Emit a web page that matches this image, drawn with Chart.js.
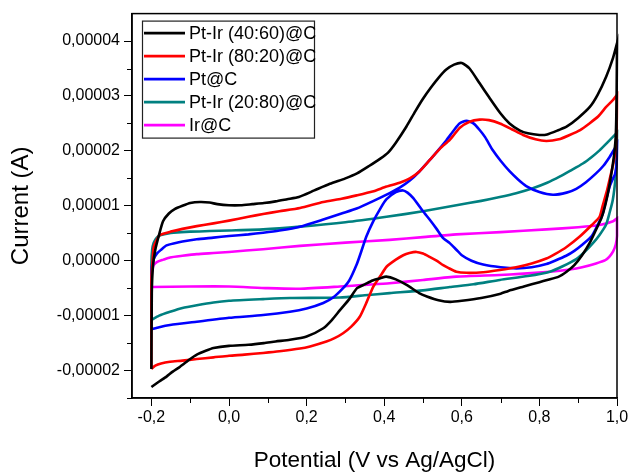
<!DOCTYPE html>
<html>
<head>
<meta charset="utf-8">
<script src="https://cdn.jsdelivr.net/npm/chart.js@4.4.1/dist/chart.umd.min.js"></script>
<style>
  html, body { margin: 0; padding: 0; background: #fff; }
</style>
</head>
<body>
<canvas id="cv" width="631" height="476"></canvas>
<script>
// potentials in V vs Ag/AgCl, currents in microamps (converted to A below)
// Pt-Ir (40:60)@C
const ptIr4060FwdE = [-0.2, -0.199, -0.196, -0.19, -0.18, -0.17, -0.155, -0.14, -0.12, -0.1, -0.075, -0.05, -0.03, 0.0, 0.03, 0.06, 0.09, 0.12, 0.15, 0.18, 0.22, 0.26, 0.3, 0.33, 0.36, 0.39, 0.41, 0.43, 0.457, 0.48, 0.5, 0.52, 0.54, 0.56, 0.58, 0.6, 0.62, 0.646, 0.67, 0.7, 0.723, 0.75, 0.77, 0.8, 0.82, 0.85, 0.87, 0.9, 0.93, 0.95, 0.972, 0.99, 1.0];
const ptIr4060FwdI = [-19.7, -6.0, -1.0, 2.0, 4.8, 7.2, 8.6, 9.4, 10.0, 10.5, 10.7, 10.6, 10.3, 10.1, 10.1, 10.3, 10.5, 10.8, 11.2, 11.6, 12.8, 14.0, 15.0, 15.9, 17.2, 18.6, 19.7, 21.5, 24.4, 27.2, 29.5, 31.5, 33.3, 34.8, 35.7, 36.0, 35.0, 32.3, 29.8, 26.8, 25.0, 23.7, 23.2, 22.9, 23.0, 23.8, 24.4, 26.0, 28.0, 30.2, 33.5, 37.0, 39.6];
const ptIr4060RevE = [1.0, 0.999, 0.997, 0.993, 0.988, 0.98, 0.97, 0.96, 0.945, 0.93, 0.91, 0.89, 0.87, 0.85, 0.82, 0.8, 0.76, 0.72, 0.7, 0.65, 0.6, 0.57, 0.54, 0.51, 0.49, 0.46, 0.43, 0.405, 0.39, 0.37, 0.35, 0.33, 0.31, 0.286, 0.265, 0.243, 0.2, 0.157, 0.12, 0.09, 0.05, 0.0, -0.04, -0.06, -0.083, -0.1, -0.126, -0.145, -0.161, -0.18, -0.2];
const ptIr4060RevI = [39.6, 30.0, 23.0, 19.5, 17.0, 13.5, 10.2, 7.8, 5.5, 3.3, 1.0, -0.8, -2.0, -2.9, -3.5, -3.9, -4.7, -5.5, -6.0, -6.8, -7.3, -7.5, -7.2, -6.5, -5.9, -4.5, -3.4, -2.9, -3.2, -3.6, -4.3, -5.0, -7.0, -9.0, -10.8, -12.3, -13.8, -14.4, -14.7, -15.0, -15.3, -15.5, -15.9, -16.4, -17.1, -17.9, -19.3, -20.2, -21.1, -22.0, -23.0];

// Pt-Ir (80:20)@C
const ptIr8020FwdE = [-0.2, -0.2, -0.197, -0.194, -0.185, -0.178, -0.15, -0.12, -0.083, -0.04, 0.0, 0.05, 0.088, 0.13, 0.183, 0.243, 0.29, 0.329, 0.37, 0.406, 0.44, 0.466, 0.49, 0.517, 0.545, 0.569, 0.595, 0.62, 0.646, 0.67, 0.698, 0.73, 0.758, 0.79, 0.818, 0.85, 0.878, 0.905, 0.929, 0.952, 0.972, 0.99, 1.0];
const ptIr8020FwdI = [-19.5, -3.5, 0.0, 2.5, 4.0, 4.7, 5.3, 5.8, 6.3, 6.8, 7.3, 8.0, 8.5, 9.0, 9.6, 10.7, 11.3, 11.9, 12.6, 13.5, 14.2, 15.0, 16.2, 18.3, 20.5, 22.0, 24.2, 25.3, 25.7, 25.6, 25.0, 23.9, 22.9, 22.1, 21.8, 22.1, 22.9, 23.8, 25.0, 26.3, 28.0, 29.3, 30.2];
const ptIr8020RevE = [1.0, 0.999, 0.996, 0.99, 0.985, 0.975, 0.963, 0.955, 0.935, 0.904, 0.87, 0.84, 0.818, 0.78, 0.74, 0.698, 0.655, 0.612, 0.586, 0.565, 0.552, 0.535, 0.517, 0.5, 0.483, 0.465, 0.449, 0.43, 0.406, 0.39, 0.372, 0.355, 0.337, 0.315, 0.294, 0.272, 0.251, 0.209, 0.183, 0.13, 0.088, 0.04, 0.0, -0.04, -0.083, -0.12, -0.152, -0.175, -0.19, -0.2];
const ptIr8020RevI = [30.2, 24.0, 20.0, 17.5, 16.0, 13.0, 10.0, 8.0, 6.5, 4.4, 2.5, 1.2, 0.4, -0.5, -1.2, -1.7, -2.1, -2.2, -2.0, -1.3, -0.8, 0.0, 0.7, 1.3, 1.6, 1.4, 1.0, 0.2, -1.1, -2.8, -4.7, -7.5, -10.2, -12.0, -13.2, -14.1, -14.7, -15.6, -16.0, -16.5, -16.8, -17.1, -17.3, -17.6, -17.9, -18.2, -18.4, -18.7, -19.1, -19.7];

// Pt@C
const ptFwdE = [-0.2, -0.2, -0.199, -0.194, -0.186, -0.175, -0.161, -0.14, -0.12, -0.083, -0.04, 0.0, 0.05, 0.088, 0.13, 0.183, 0.243, 0.29, 0.329, 0.37, 0.414, 0.44, 0.466, 0.49, 0.517, 0.54, 0.56, 0.58, 0.594, 0.612, 0.63, 0.646, 0.66, 0.68, 0.7, 0.723, 0.745, 0.766, 0.8, 0.835, 0.87, 0.895, 0.92, 0.946, 0.965, 0.981, 0.993, 1.0];
const ptFwdI = [-12.4, -5.0, -1.1, 0.3, 1.3, 2.0, 2.8, 3.2, 3.5, 3.9, 4.2, 4.5, 4.8, 5.1, 5.5, 6.2, 7.5, 8.6, 9.5, 10.8, 12.3, 13.3, 14.6, 16.2, 18.3, 20.2, 21.9, 23.8, 25.0, 25.5, 25.0, 23.8, 22.5, 20.1, 18.2, 16.3, 14.8, 13.6, 12.5, 12.0, 12.4, 13.1, 14.3, 15.9, 17.3, 18.9, 20.3, 21.2];
const ptRevE = [1.0, 0.999, 0.995, 0.99, 0.981, 0.97, 0.963, 0.955, 0.935, 0.912, 0.89, 0.869, 0.84, 0.818, 0.78, 0.741, 0.7, 0.655, 0.625, 0.6, 0.586, 0.569, 0.552, 0.535, 0.517, 0.5, 0.475, 0.46, 0.449, 0.43, 0.406, 0.39, 0.372, 0.354, 0.34, 0.329, 0.31, 0.294, 0.27, 0.243, 0.2, 0.157, 0.088, 0.0, -0.083, -0.152, -0.18, -0.2];
const ptRevI = [21.2, 17.5, 15.8, 15.0, 13.5, 10.5, 8.5, 7.2, 4.5, 3.0, 1.8, 0.9, 0.0, -0.6, -1.2, -1.4, -1.2, -0.7, 0.0, 1.0, 2.0, 3.2, 4.1, 5.8, 7.5, 9.0, 11.4, 12.4, 12.8, 12.5, 11.2, 9.5, 7.2, 4.4, 1.5, -0.7, -3.6, -5.0, -6.6, -7.7, -8.7, -9.3, -9.9, -10.4, -11.1, -11.7, -12.1, -12.5];

// Pt-Ir (20:80)@C
const ptIr2080FwdE = [-0.2, -0.2, -0.198, -0.194, -0.186, -0.178, -0.16, -0.143, -0.1, -0.05, 0.0, 0.088, 0.183, 0.3, 0.406, 0.5, 0.586, 0.65, 0.698, 0.74, 0.783, 0.82, 0.852, 0.88, 0.912, 0.935, 0.955, 0.975, 0.99, 1.0];
const ptIr2080FwdI = [-10.8, -0.5, 2.0, 3.3, 4.2, 4.6, 4.9, 5.1, 5.3, 5.4, 5.5, 5.7, 6.2, 7.0, 8.0, 9.0, 10.1, 10.9, 11.6, 12.3, 13.2, 14.2, 15.3, 16.4, 17.7, 18.9, 20.1, 21.5, 22.6, 23.3];
const ptIr2080RevE = [1.0, 0.999, 0.996, 0.989, 0.98, 0.972, 0.955, 0.938, 0.915, 0.895, 0.86, 0.827, 0.77, 0.698, 0.63, 0.569, 0.5, 0.414, 0.35, 0.286, 0.157, 0.088, 0.0, -0.04, -0.083, -0.12, -0.152, -0.18, -0.2];
const ptIr2080RevI = [23.3, 19.0, 15.0, 11.0, 8.5, 6.6, 4.7, 3.2, 1.5, 0.3, -1.0, -2.0, -2.8, -3.5, -4.3, -4.8, -5.4, -5.9, -6.3, -6.7, -6.8, -7.0, -7.3, -7.6, -8.1, -8.6, -9.3, -10.0, -10.8];

// Ir@C
const irFwdE = [-0.2, -0.2, -0.197, -0.194, -0.185, -0.169, -0.152, -0.12, -0.083, -0.04, 0.0, 0.088, 0.183, 0.3, 0.414, 0.5, 0.586, 0.7, 0.818, 0.9, 0.955, 0.99, 1.0];
const irFwdI = [-4.8, -3.2, -1.5, -0.8, -0.2, 0.2, 0.6, 0.9, 1.2, 1.4, 1.6, 2.1, 2.7, 3.3, 3.8, 4.3, 4.8, 5.2, 5.7, 6.1, 6.5, 7.2, 7.7];
const irRevE = [1.0, 1.0, 0.997, 0.99, 0.98, 0.97, 0.946, 0.91, 0.878, 0.827, 0.75, 0.698, 0.586, 0.5, 0.414, 0.35, 0.286, 0.183, 0.1, 0.0, -0.1, -0.2];
const irRevI = [7.7, 4.5, 3.0, 1.7, 0.7, 0.1, -0.5, -1.2, -1.6, -2.0, -2.4, -2.6, -2.9, -3.5, -4.1, -4.4, -4.7, -5.1, -5.0, -4.7, -4.7, -4.8];

const seriesLabels = ['Pt-Ir (40:60)@C', 'Pt-Ir (80:20)@C', 'Pt@C', 'Pt-Ir (20:80)@C', 'Ir@C'];
const seriesColors = ['#000000', '#ff0000', '#0000ff', '#008080', '#ff00ff'];

// axis ticks
const xTicks = [-0.2, 0.0, 0.2, 0.4, 0.6, 0.8, 1.0];
const xMinor = [-0.1, 0.1, 0.3, 0.5, 0.7, 0.9];
const yTicks = [-0.00002, -0.00001, 0, 0.00001, 0.00002, 0.00003, 0.00004];
const yMinor = [-0.000025, -0.000015, -0.000005, 0.000005, 0.000015, 0.000025, 0.000035];

function sweep(fE, fI, rE, rI) {
  const pts = [];
  fE.forEach((e, i) => pts.push({ x: e, y: fI[i] * 1e-6 }));
  rE.forEach((e, i) => pts.push({ x: e, y: rI[i] * 1e-6 }));
  return pts;
}

const loops = [
  sweep(ptIr4060FwdE, ptIr4060FwdI, ptIr4060RevE, ptIr4060RevI),
  sweep(ptIr8020FwdE, ptIr8020FwdI, ptIr8020RevE, ptIr8020RevI),
  sweep(ptFwdE, ptFwdI, ptRevE, ptRevI),
  sweep(ptIr2080FwdE, ptIr2080FwdI, ptIr2080RevE, ptIr2080RevI),
  sweep(irFwdE, irFwdI, irRevE, irRevI)
];

Chart.defaults.font.family = "'Liberation Sans', Arial, sans-serif";
Chart.defaults.color = '#000';

// frame, minor ticks and the boxed legend
const extras = {
  id: 'extras',
  afterDraw(chart) {
    const { ctx, chartArea: a, scales } = chart;
    ctx.save();
    ctx.strokeStyle = '#000';
    ctx.lineWidth = 1.5;
    ctx.strokeRect(a.left, a.top, a.right - a.left, a.bottom - a.top);

    ctx.lineWidth = 1;
    ctx.beginPath();
    xMinor.forEach(v => {
      const px = Math.round(scales.x.getPixelForValue(v)) + 0.5;
      ctx.moveTo(px, a.bottom);
      ctx.lineTo(px, a.bottom + 5);
    });
    yMinor.forEach(v => {
      const py = Math.round(scales.y.getPixelForValue(v)) + 0.5;
      ctx.moveTo(a.left, py);
      ctx.lineTo(a.left - 5, py);
    });
    ctx.stroke();

    const bx = a.left + 10, by = a.top + 7, bw = 172, bh = 117;
    ctx.fillStyle = '#fff';
    ctx.fillRect(bx, by, bw, bh);
    ctx.strokeStyle = '#222';
    ctx.lineWidth = 1.2;
    ctx.strokeRect(bx + 0.5, by + 0.5, bw, bh);
    ctx.font = "18px 'Liberation Sans', Arial, sans-serif";
    ctx.textBaseline = 'middle';
    ctx.textAlign = 'left';
    chart.data.datasets.forEach((ds, i) => {
      const ry = by + 12.5 + i * 23;
      ctx.strokeStyle = ds.borderColor;
      ctx.lineWidth = 2.6;
      ctx.beginPath();
      ctx.moveTo(bx + 2, ry);
      ctx.lineTo(bx + 43, ry);
      ctx.stroke();
      ctx.fillStyle = '#000';
      ctx.fillText(ds.label, bx + 47, ry + 1);
    });
    ctx.restore();
  }
};

new Chart(document.getElementById('cv'), {
  type: 'scatter',
  data: {
    datasets: loops.map((pts, i) => ({
      label: seriesLabels[i],
      data: pts,
      showLine: true,
      borderColor: seriesColors[i],
      backgroundColor: seriesColors[i],
      borderWidth: 2.6,
      pointRadius: 0,
      tension: 0.2,
      clip: false
    }))
  },
  options: {
    responsive: false,
    animation: false,
    devicePixelRatio: 1,
    layout: { padding: { left: 0, right: 14, top: 12, bottom: 0 } },
    plugins: {
      legend: { display: false },
      tooltip: { enabled: false }
    },
    scales: {
      x: {
        type: 'linear',
        min: -0.25,
        max: 1.0,
        afterBuildTicks: s => { s.ticks = xTicks.map(v => ({ value: v })); },
        afterFit: s => { s.height = 78; },
        ticks: {
          callback: v => v.toFixed(1).replace('.', ','),
          font: { size: 16 },
          color: '#000',
          padding: 2,
          maxRotation: 0,
          autoSkip: false
        },
        grid: { drawOnChartArea: false, drawTicks: true, tickLength: 8, tickColor: '#000', tickWidth: 1 },
        border: { color: '#000', width: 1.5 },
        title: { display: true, text: 'Potential (V vs Ag/AgCl)', font: { size: 22.5 }, color: '#000', padding: { top: 0, bottom: 2 } }
      },
      y: {
        type: 'linear',
        min: -0.000025,
        max: 0.000045,
        afterBuildTicks: s => { s.ticks = yTicks.map(v => ({ value: v })); },
        afterFit: s => { s.width = 132; },
        ticks: {
          callback: v => v.toFixed(5).replace('.', ','),
          font: { size: 16 },
          color: '#000',
          padding: 4,
          autoSkip: false
        },
        grid: { drawOnChartArea: false, drawTicks: true, tickLength: 8, tickColor: '#000', tickWidth: 1 },
        border: { color: '#000', width: 1.5 },
        title: { display: true, text: 'Current (A)', font: { size: 24 }, color: '#000', padding: { top: 7, bottom: 0 } }
      }
    }
  },
  plugins: [extras]
});
</script>
</body>
</html>
